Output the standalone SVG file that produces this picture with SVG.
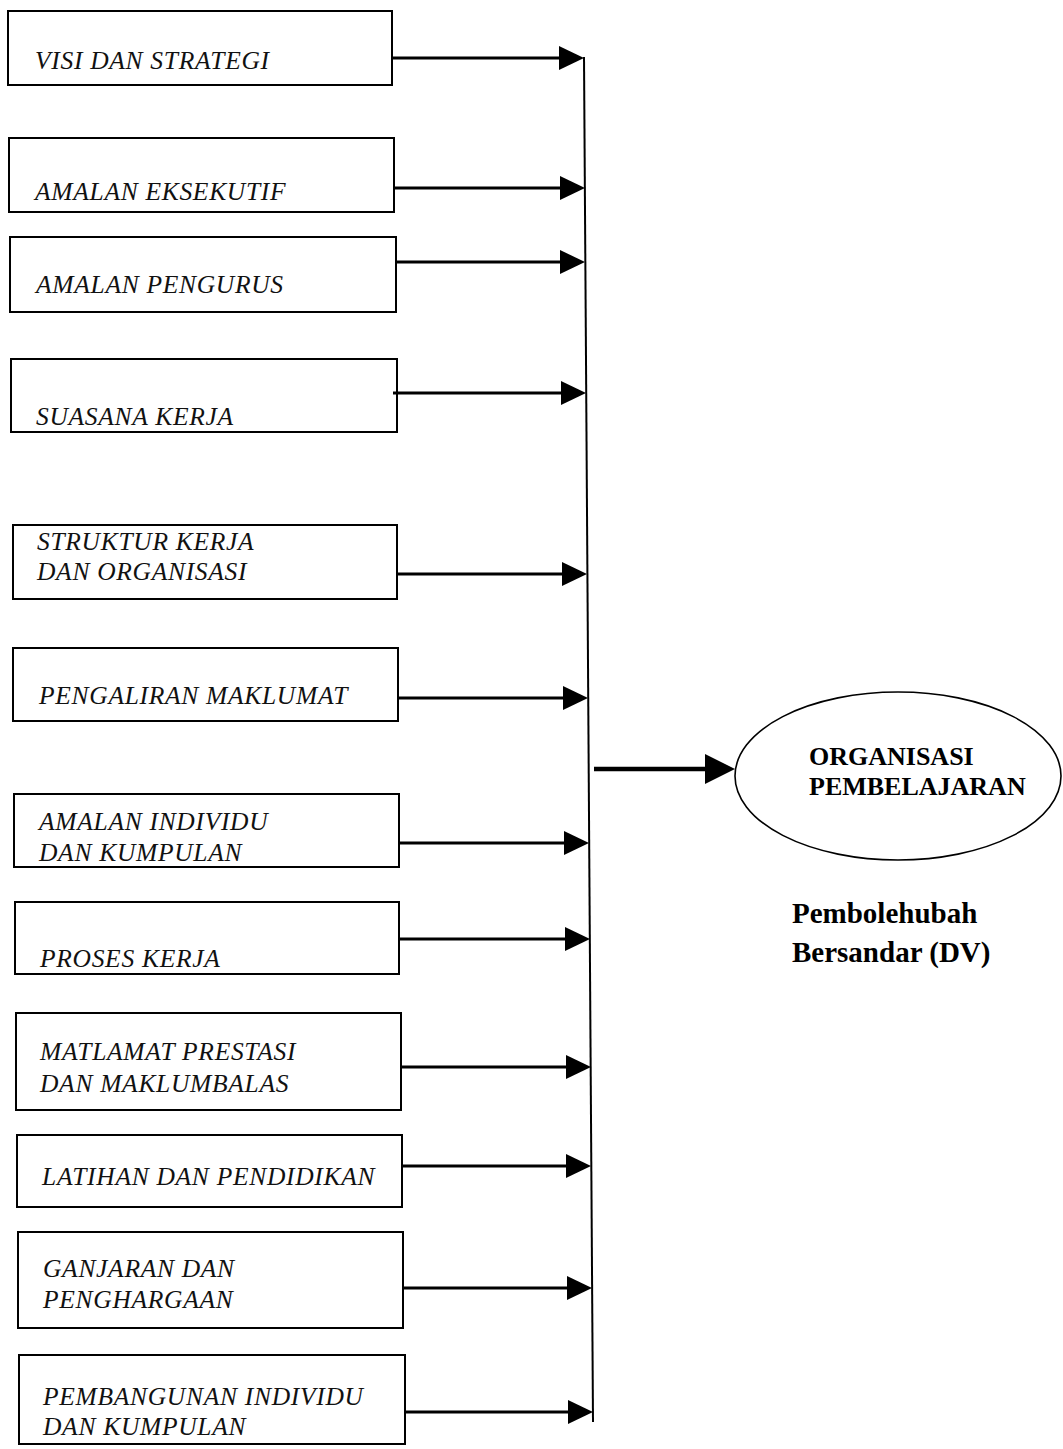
<svg xmlns="http://www.w3.org/2000/svg" width="1063" height="1449" viewBox="0 0 1063 1449">
<style>
.box{fill:#fff;stroke:#000;stroke-width:2}
.lbl{font-family:"Liberation Serif","Times New Roman",serif;font-style:italic;font-size:25.5px;letter-spacing:0.7px;fill:#111}
.conn{stroke:#000;stroke-width:3;fill:none}
.bold{font-family:"Liberation Serif","Times New Roman",serif;font-weight:bold;fill:#000}
</style>
<defs>
<marker id="ah" markerUnits="userSpaceOnUse" markerWidth="25" markerHeight="24" refX="5" refY="12" orient="auto" overflow="visible"><path d="M0,0 L25,12 L0,24 z" fill="#000"/></marker>
<marker id="ahBig" markerUnits="userSpaceOnUse" markerWidth="30" markerHeight="30" refX="5" refY="15" orient="auto" overflow="visible"><path d="M0,0 L30,15 L0,30 z" fill="#000"/></marker>
</defs>
<rect width="1063" height="1449" fill="#fff"/>
<g id="n1"><rect class="box" x="8" y="11" width="384" height="74"/><text class="lbl" x="35" y="69">VISI DAN STRATEGI</text></g>
<g id="n2"><rect class="box" x="9" y="138" width="385" height="74"/><text class="lbl" x="35" y="200">AMALAN EKSEKUTIF</text></g>
<g id="n3"><rect class="box" x="10" y="237" width="386" height="75"/><text class="lbl" x="36" y="293">AMALAN PENGURUS</text></g>
<g id="n4"><rect class="box" x="11" y="359" width="386" height="73"/><text class="lbl" x="36" y="425">SUASANA KERJA</text></g>
<g id="n5"><rect class="box" x="13" y="525" width="384" height="74"/><text class="lbl" x="37" y="550">STRUKTUR KERJA</text><text class="lbl" x="37" y="580">DAN ORGANISASI</text></g>
<g id="n6"><rect class="box" x="13" y="648" width="385" height="73"/><text class="lbl" x="39" y="704">PENGALIRAN MAKLUMAT</text></g>
<g id="n7"><rect class="box" x="14" y="794" width="385" height="73"/><text class="lbl" x="39" y="830">AMALAN INDIVIDU</text><text class="lbl" x="39" y="861">DAN KUMPULAN</text></g>
<g id="n8"><rect class="box" x="15" y="902" width="384" height="72"/><text class="lbl" x="40" y="967">PROSES KERJA</text></g>
<g id="n9"><rect class="box" x="16" y="1013" width="385" height="97"/><text class="lbl" x="40" y="1060">MATLAMAT PRESTASI</text><text class="lbl" x="40" y="1092">DAN MAKLUMBALAS</text></g>
<g id="n10"><rect class="box" x="17" y="1135" width="385" height="72"/><text class="lbl" x="42" y="1185">LATIHAN DAN PENDIDIKAN</text></g>
<g id="n11"><rect class="box" x="18" y="1232" width="385" height="96"/><text class="lbl" x="43" y="1277">GANJARAN DAN</text><text class="lbl" x="43" y="1308">PENGHARGAAN</text></g>
<g id="n12"><rect class="box" x="19" y="1355" width="386" height="89"/><text class="lbl" x="43" y="1405">PEMBANGUNAN INDIVIDU</text><text class="lbl" x="43" y="1435">DAN KUMPULAN</text></g>
<g id="target"><ellipse cx="898" cy="776" rx="163" ry="84" fill="#fff" stroke="#000" stroke-width="1.6"/><text class="bold" x="809" y="765" font-size="26">ORGANISASI</text><text class="bold" x="809" y="795" font-size="26">PEMBELAJARAN</text></g>
<g id="dvlabel"><text class="bold" x="792" y="923" font-size="29">Pembolehubah</text><text class="bold" x="792" y="962" font-size="29">Bersandar (DV)</text></g>
<g id="connectors">
<line x1="584" y1="57" x2="593" y2="1422" stroke="#000" stroke-width="2"/>
<line class="conn" x1="392" y1="58" x2="564" y2="58" marker-end="url(#ah)"/>
<line class="conn" x1="394" y1="188" x2="565" y2="188" marker-end="url(#ah)"/>
<line class="conn" x1="396" y1="262" x2="565" y2="262" marker-end="url(#ah)"/>
<line class="conn" x1="393" y1="393" x2="566" y2="393" marker-end="url(#ah)"/>
<line class="conn" x1="397" y1="574" x2="567" y2="574" marker-end="url(#ah)"/>
<line class="conn" x1="398" y1="698" x2="568" y2="698" marker-end="url(#ah)"/>
<line class="conn" x1="399" y1="843" x2="569" y2="843" marker-end="url(#ah)"/>
<line class="conn" x1="399" y1="939" x2="570" y2="939" marker-end="url(#ah)"/>
<line class="conn" x1="401" y1="1067" x2="571" y2="1067" marker-end="url(#ah)"/>
<line class="conn" x1="402" y1="1166" x2="571" y2="1166" marker-end="url(#ah)"/>
<line class="conn" x1="403" y1="1288" x2="572" y2="1288" marker-end="url(#ah)"/>
<line class="conn" x1="405" y1="1412" x2="573" y2="1412" marker-end="url(#ah)"/>
<line x1="594" y1="769" x2="710" y2="769" stroke="#000" stroke-width="4.5" marker-end="url(#ahBig)"/>
</g>
</svg>
